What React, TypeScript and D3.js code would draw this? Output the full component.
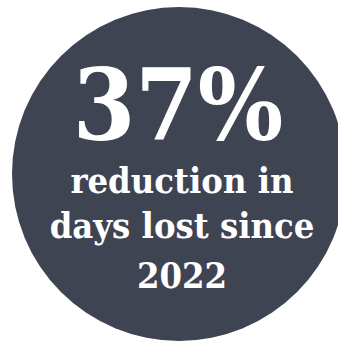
import React from "react";
import * as d3 from "d3";

const headline = ["37%"];
const lines = ["reduction in", "days lost since", "2022"];
const lineBaselines = [193, 238, 288];

export default function App() {
  const W = 338, H = 343;
  const y = d3.scaleLinear().domain([0, 1]).range([0, 1]);
  return (
    <svg width={W} height={H} style={{ position: "absolute", left: 0, top: 0, display: "block" }}>
      <circle cx={179} cy={174} r={167} fill="#3e4452" />
      <text x={178} y={y(140)} textAnchor="middle" fill="#fff"
        style={{ fontFamily: "'DejaVu Serif Condensed', 'DejaVu Serif'", fontStretch: "condensed", fontWeight: 700, fontSize: 100 }}>
        {headline[0]}
      </text>
      {lines.map((t, i) => (
        <text key={i} x={182} y={lineBaselines[i]} textAnchor="middle" fill="#fff"
          style={{ fontFamily: "'DejaVu Serif Condensed', 'DejaVu Serif'", fontStretch: "condensed", fontWeight: 700, fontSize: 36 }}>
          {t}
        </text>
      ))}
    </svg>
  );
}
